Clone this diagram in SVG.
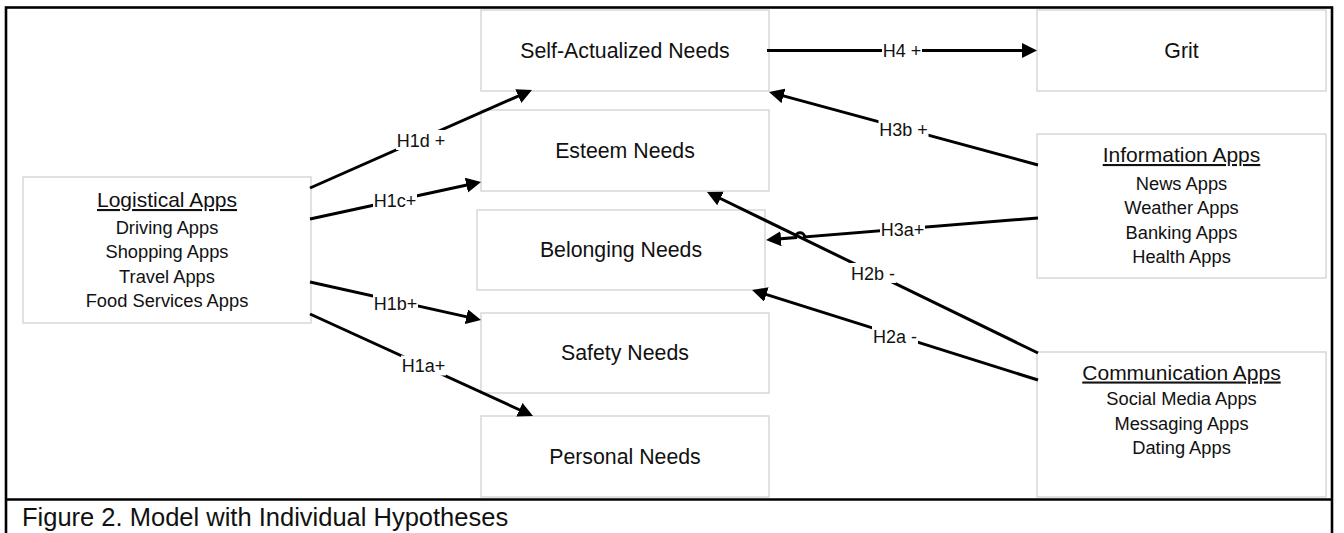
<svg xmlns="http://www.w3.org/2000/svg" width="1344" height="533" viewBox="0 0 1344 533">
<style>
text{font-family:"Liberation Sans",Arial,sans-serif;fill:#111;text-anchor:middle}
.box{fill:#fff;stroke:#d2d2d2;stroke-width:1.3}
.big{font-size:21.3px}
.hdr{font-size:21px;text-decoration:underline}
.item{font-size:18.3px}
.lbl{font-size:18px}
.conn{fill:none;stroke:#000;stroke-width:3}
.arr{marker-end:url(#ah)}
.lb{fill:#fff}
</style>
<defs>
<marker id="ah" markerUnits="userSpaceOnUse" markerWidth="16" markerHeight="16" refX="3" refY="7.5" orient="auto">
<path d="M0,0 L15,7.5 L0,15 z" fill="#000"/>
</marker>
</defs>
<rect x="0" y="0" width="1344" height="533" fill="#fff"/>
<rect x="6" y="7.5" width="1326" height="540" fill="none" stroke="#000" stroke-width="2.6"/>
<line x1="6" y1="499.5" x2="1332" y2="499.5" stroke="#000" stroke-width="2.6"/>
<text x="22" y="526" style="font-size:25.5px;text-anchor:start">Figure 2. Model with Individual Hypotheses</text>

<g id="self-actualized"><rect class="box" x="481" y="10" width="288" height="81"/><text class="big" x="625" y="58">Self-Actualized Needs</text></g>
<g id="esteem"><rect class="box" x="481" y="110" width="288" height="81"/><text class="big" x="625" y="158">Esteem Needs</text></g>
<g id="belonging"><rect class="box" x="477" y="210" width="288" height="80"/><text class="big" x="621" y="257">Belonging Needs</text></g>
<g id="safety"><rect class="box" x="481" y="313" width="288" height="80"/><text class="big" x="625" y="360">Safety Needs</text></g>
<g id="personal"><rect class="box" x="481" y="416" width="288" height="81"/><text class="big" x="625" y="464">Personal Needs</text></g>
<g id="grit"><rect class="box" x="1037" y="10" width="289" height="81"/><text class="big" x="1181.5" y="58">Grit</text></g>
<g id="logistical"><rect class="box" x="23" y="177" width="288" height="146"/>
<text class="hdr" x="167" y="207">Logistical Apps</text>
<text class="item" x="167" y="234">Driving Apps</text>
<text class="item" x="167" y="258.3">Shopping Apps</text>
<text class="item" x="167" y="282.7">Travel Apps</text>
<text class="item" x="167" y="307">Food Services Apps</text></g>
<g id="information"><rect class="box" x="1037" y="134" width="289" height="144"/>
<text class="hdr" x="1181.5" y="162">Information Apps</text>
<text class="item" x="1181.5" y="190">News Apps</text>
<text class="item" x="1181.5" y="214.3">Weather Apps</text>
<text class="item" x="1181.5" y="238.6">Banking Apps</text>
<text class="item" x="1181.5" y="263">Health Apps</text></g>
<g id="communication"><rect class="box" x="1037" y="352" width="289" height="145"/>
<text class="hdr" x="1181.5" y="379.5">Communication Apps</text>
<text class="item" x="1181.5" y="404.5">Social Media Apps</text>
<text class="item" x="1181.5" y="429.5">Messaging Apps</text>
<text class="item" x="1181.5" y="454">Dating Apps</text></g>

<g id="connectors">
<path class="conn arr" d="M310,188 L521,94.85"/>
<path class="conn arr" d="M310,219 L469.3,184.5"/>
<path class="conn arr" d="M310,282 L469.3,317.4"/>
<path class="conn arr" d="M310,314 L522.1,411"/>
<path class="conn arr" d="M767,50.5 L1025,50.5"/>
<path class="conn arr" d="M1038,165 L780.6,95.1"/>
<path class="conn arr" d="M1038,353 L717.8,197.25"/>
<path class="conn arr" d="M1038,218 L804.6,236.9 A4.5,4.5 0 0 0 795.6,237.6 L778,239"/>
<path class="conn arr" d="M1038,380 L763.5,293.6"/>

<rect class="lb" x="396" y="130" width="50" height="20"/><text class="lbl" x="421" y="146.5">H1d +</text>
<rect class="lb" x="373" y="190" width="44" height="20"/><text class="lbl" x="395" y="206.5">H1c+</text>
<rect class="lb" x="373" y="293" width="45" height="20"/><text class="lbl" x="395.5" y="309.5">H1b+</text>
<rect class="lb" x="401" y="355.5" width="45" height="20"/><text class="lbl" x="423.5" y="372">H1a+</text>
<rect class="lb" x="882" y="40.5" width="40" height="20"/><text class="lbl" x="902" y="57">H4 +</text>
<rect class="lb" x="878.5" y="119.5" width="50" height="20"/><text class="lbl" x="903.5" y="136">H3b +</text>
<rect class="lb" x="880" y="219" width="45" height="20"/><text class="lbl" x="902.5" y="235.5">H3a+</text>
<rect class="lb" x="850" y="263" width="46" height="20"/><text class="lbl" x="873" y="279.5">H2b -</text>
<rect class="lb" x="872" y="326" width="46" height="20"/><text class="lbl" x="895" y="342.5">H2a -</text>
</g>
</svg>
